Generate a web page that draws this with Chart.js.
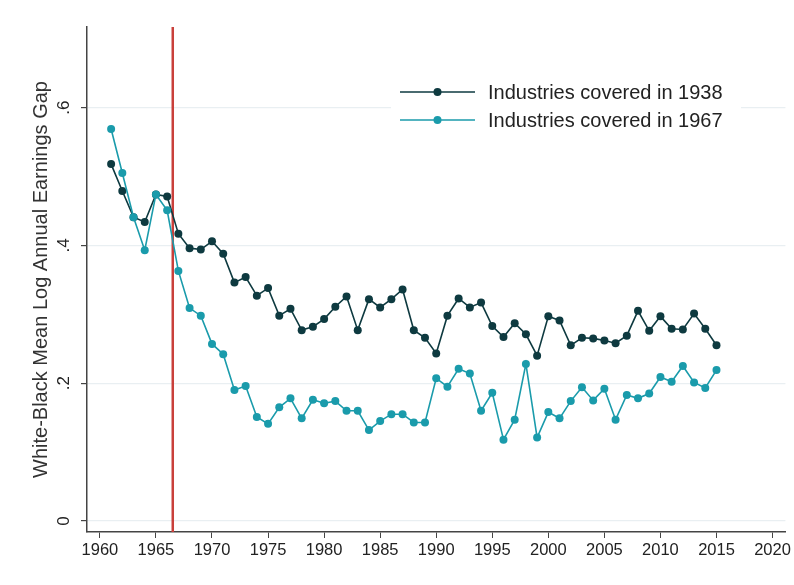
<!DOCTYPE html>
<html lang="en">
<head>
    <meta charset="UTF-8">
    <title>White-Black Earnings Gap</title>
    <script src="https://cdn.jsdelivr.net/npm/chart.js"></script>
    <style>
        body { margin: 0; background: #ffffff; }
        #wrap { width: 794px; height: 585px; }
    </style>
</head>
<body>
    <div id="wrap"><canvas id="gapChart" width="794" height="585"></canvas></div>

    <script>
        // years 1961-2015
        const years = [];
        for (let y = 1961; y <= 2015; y++) years.push(y);

        // Industries covered in 1938
        const gap1938 = [
            0.518, 0.479, 0.441, 0.434, 0.474, 0.471, 0.417, 0.396, 0.394, 0.406,
            0.388, 0.346, 0.354, 0.327, 0.338, 0.298, 0.308, 0.277, 0.282, 0.293,
            0.311, 0.326, 0.277, 0.322, 0.310, 0.322, 0.336, 0.277, 0.266, 0.243,
            0.298, 0.323, 0.310, 0.317, 0.283, 0.267, 0.287, 0.271, 0.240, 0.297,
            0.291, 0.255, 0.266, 0.265, 0.262, 0.258, 0.269, 0.305, 0.276, 0.297,
            0.279, 0.278, 0.301, 0.279, 0.255
        ];

        // Industries covered in 1967
        const gap1967 = [
            0.569, 0.505, 0.441, 0.393, 0.474, 0.451, 0.363, 0.309, 0.298, 0.257,
            0.242, 0.190, 0.196, 0.151, 0.141, 0.165, 0.178, 0.149, 0.176, 0.171,
            0.174, 0.160, 0.160, 0.132, 0.145, 0.155, 0.155, 0.143, 0.143, 0.207,
            0.195, 0.221, 0.214, 0.160, 0.186, 0.118, 0.147, 0.228, 0.121, 0.158,
            0.149, 0.174, 0.194, 0.175, 0.192, 0.147, 0.183, 0.178, 0.185, 0.209,
            0.202, 0.225, 0.201, 0.193, 0.219
        ];

        const seriesLabels = ['Industries covered in 1938', 'Industries covered in 1967'];
        const xTicks = [1960, 1965, 1970, 1975, 1980, 1985, 1990, 1995, 2000, 2005, 2010, 2015, 2020];
        const yTicks = [0, 0.2, 0.4, 0.6];
        const policyYear = 1966.5;

        const darkColor = '#0e3a40';
        const tealColor = '#1a9bab';
        const fontFam = '"Liberation Sans", Arial, sans-serif';

        // vertical red line (drawn behind the series)
        const xLinePlugin = {
            id: 'xLine',
            beforeDatasetsDraw(chart) {
                const ctx = chart.ctx;
                const x = chart.scales.x.getPixelForValue(policyYear);
                const area = chart.chartArea;
                ctx.save();
                ctx.strokeStyle = '#c9403b';
                ctx.lineWidth = 2.5;
                ctx.beginPath();
                ctx.moveTo(x, area.top);
                ctx.lineTo(x, area.bottom);
                ctx.stroke();
                ctx.restore();
            }
        };

        // legend box inside the plot, top right
        const boxLegendPlugin = {
            id: 'boxLegend',
            afterDatasetsDraw(chart) {
                const ctx = chart.ctx;
                ctx.save();
                ctx.fillStyle = '#ffffff';
                ctx.fillRect(391, 78, 350, 56);
                const rows = [
                    { y: 92, color: darkColor, text: chart.data.datasets[0].label },
                    { y: 120, color: tealColor, text: chart.data.datasets[1].label }
                ];
                rows.forEach(r => {
                    ctx.strokeStyle = r.color;
                    ctx.lineWidth = 1.6;
                    ctx.beginPath();
                    ctx.moveTo(400, r.y);
                    ctx.lineTo(475, r.y);
                    ctx.stroke();
                    ctx.fillStyle = r.color;
                    ctx.beginPath();
                    ctx.arc(437.5, r.y, 4, 0, Math.PI * 2);
                    ctx.fill();
                    ctx.fillStyle = '#222222';
                    ctx.font = '20px ' + fontFam;
                    ctx.textBaseline = 'middle';
                    ctx.textAlign = 'left';
                    ctx.fillText(r.text, 488, r.y + 1);
                });
                ctx.restore();
            }
        };

        const ctx = document.getElementById('gapChart').getContext('2d');
        const gapChart = new Chart(ctx, {
            type: 'line',
            data: {
                datasets: [{
                    label: seriesLabels[0],
                    data: years.map((yr, i) => ({ x: yr, y: gap1938[i] })),
                    borderColor: darkColor,
                    backgroundColor: darkColor,
                    borderWidth: 1.6,
                    pointRadius: 4,
                    pointBorderWidth: 0,
                    order: 1
                }, {
                    label: seriesLabels[1],
                    data: years.map((yr, i) => ({ x: yr, y: gap1967[i] })),
                    borderColor: tealColor,
                    backgroundColor: tealColor,
                    borderWidth: 1.6,
                    pointRadius: 4,
                    pointBorderWidth: 0,
                    order: 0
                }]
            },
            options: {
                responsive: false,
                animation: false,
                layout: { padding: { top: 27, right: 6, left: 0, bottom: 0 } },
                plugins: {
                    legend: { display: false },
                    tooltip: { enabled: false }
                },
                scales: {
                    x: {
                        type: 'linear',
                        min: 1958.85,
                        max: 2021.15,
                        afterBuildTicks: s => { s.ticks = xTicks.map(v => ({ value: v })); },
                        afterFit: s => { s.height = 53; },
                        border: { color: '#444444', width: 1.5 },
                        grid: { drawOnChartArea: false, drawTicks: true, tickLength: 6, tickColor: '#444444' },
                        ticks: {
                            color: '#222222',
                            font: { family: fontFam, size: 16.5 },
                            padding: 3,
                            maxRotation: 0,
                            callback: v => String(v)
                        }
                    },
                    y: {
                        type: 'linear',
                        min: -0.016,
                        max: 0.717,
                        afterBuildTicks: s => { s.ticks = yTicks.map(v => ({ value: v })); },
                        afterFit: s => { s.width = 87; },
                        border: { color: '#444444', width: 1.5 },
                        grid: { color: '#e9eff2', lineWidth: 1.2, drawTicks: true, tickLength: 6, tickColor: '#444444' },
                        ticks: {
                            color: '#222222',
                            font: { family: fontFam, size: 17 },
                            minRotation: 90,
                            maxRotation: 90,
                            crossAlign: 'center',
                            padding: 10,
                            callback: v => (v === 0 ? '0' : String(v.toFixed(1)).replace(/^0/, ''))
                        },
                        title: {
                            display: true,
                            text: 'White-Black Mean Log Annual Earnings Gap',
                            color: '#333333',
                            font: { family: fontFam, size: 20 },
                            padding: { top: 29, bottom: 0 }
                        }
                    }
                }
            },
            plugins: [xLinePlugin, boxLegendPlugin]
        });
    </script>
</body>
</html>
